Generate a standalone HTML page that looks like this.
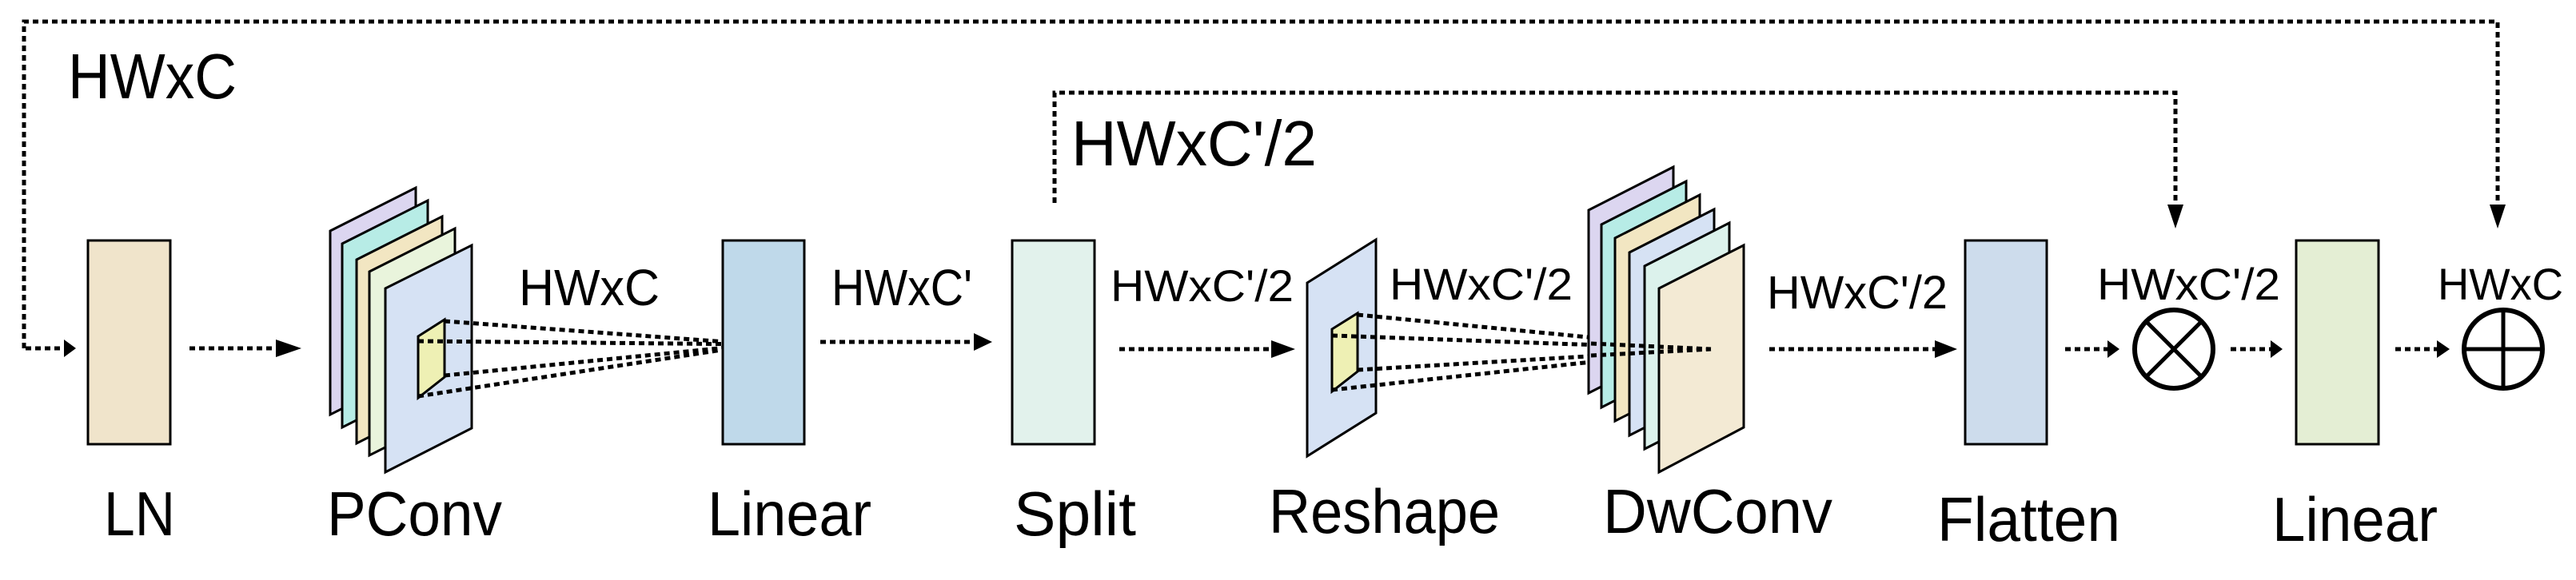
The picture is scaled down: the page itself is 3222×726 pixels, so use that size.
<!DOCTYPE html>
<html><head><meta charset="utf-8"><style>
html,body{margin:0;padding:0;background:#fff;}
svg{display:block;}
text{font-family:"Liberation Sans","DejaVu Sans",sans-serif;fill:#000;}
</style></head><body>
<svg width="3222" height="726" viewBox="0 0 3222 726" xmlns="http://www.w3.org/2000/svg">
<defs>
<style>.d{stroke:#000;stroke-width:5;stroke-dasharray:7 5;fill:none;}
.p{stroke:#000;stroke-width:3;}</style>
</defs>
<!-- top skip connections -->
<polyline class="d" points="30,436 30,27 3124,27 3124,262"/>
<polygon points="3114,256 3134,256 3124,286"/>
<polyline class="d" points="1319,254 1319,116 2721,116 2721,262"/>
<polygon points="2711,256 2731,256 2721,286"/>
<text x="85" y="123" font-size="80" textLength="211" lengthAdjust="spacingAndGlyphs">HWxC</text>
<text x="1340" y="207" font-size="80" textLength="307" lengthAdjust="spacingAndGlyphs">HWxC'/2</text>

<!-- LN -->
<line class="d" x1="32" y1="436" x2="80" y2="436"/>
<polygon points="80,425 95,436 80,447"/>
<rect x="110" y="301" width="103" height="255" fill="#f0e4cb" class="p"/>
<line class="d" x1="237" y1="436" x2="345" y2="436"/>
<polygon points="345,425 377,436 345,447"/>

<!-- PConv stack -->
<polygon points="413,289 520,235 520,465 413,519" fill="#dcd6f0" class="p"/>
<polygon points="428,305 535,251 535,481 428,535" fill="#b7ece6" class="p"/>
<polygon points="446,325 553,271 553,501 446,555" fill="#f2e6c2" class="p"/>
<polygon points="462,340 569,286 569,516 462,570" fill="#e9f4dc" class="p"/>
<polygon points="482,361 590,307 590,536 482,591" fill="#d6e2f4" class="p"/>
<polygon points="523,421 556,400 556,472 523,498" fill="#eef0b4" class="p"/>
<line class="d" x1="556" y1="402" x2="949" y2="431"/>
<line class="d" x1="523" y1="427" x2="949" y2="431"/>
<line class="d" x1="556" y1="470" x2="949" y2="431"/>
<line class="d" x1="523" y1="496" x2="949" y2="431"/>
<text x="649" y="382" font-size="64" textLength="176" lengthAdjust="spacingAndGlyphs">HWxC</text>

<!-- Linear -->
<rect x="904" y="301" width="102" height="255" fill="#bfd9ea" class="p"/>
<text x="1040" y="382" font-size="64" textLength="176" lengthAdjust="spacingAndGlyphs">HWxC'</text>
<line class="d" x1="1026" y1="428" x2="1220" y2="428"/>
<polygon points="1218,417 1241,428 1218,439"/>

<!-- Split -->
<rect x="1266" y="301" width="103" height="255" fill="#e2f2ec" class="p"/>
<text x="1389" y="377" font-size="56" textLength="229" lengthAdjust="spacingAndGlyphs">HWxC'/2</text>
<line class="d" x1="1400" y1="437" x2="1590" y2="437"/>
<polygon points="1590,426 1620,437 1590,448"/>

<!-- Reshape -->
<polygon points="1635,354 1721,300 1721,517 1635,571" fill="#d6e2f4" class="p"/>
<polygon points="1666,412 1698,392 1698,465 1666,490" fill="#eef0b4" class="p"/>
<line class="d" x1="1698" y1="394" x2="2140" y2="437"/>
<line class="d" x1="1666" y1="420" x2="2140" y2="437"/>
<line class="d" x1="1698" y1="463" x2="2140" y2="437"/>
<line class="d" x1="1666" y1="488" x2="2140" y2="437"/>
<text x="1738" y="375" font-size="56" textLength="229" lengthAdjust="spacingAndGlyphs">HWxC'/2</text>

<!-- DwConv stack -->
<polygon points="1987,263 2093,209 2093,438 1987,492" fill="#dcd6f0" class="p"/>
<polygon points="2003,281 2109,227 2109,456 2003,510" fill="#b7ece6" class="p"/>
<polygon points="2020,298 2126,244 2126,473 2020,527" fill="#f2e6c2" class="p"/>
<polygon points="2038,316 2144,262 2144,491 2038,545" fill="#d6e2f4" class="p"/>
<polygon points="2057,333 2163,279 2163,508 2057,562" fill="#dcf2ec" class="p"/>
<polygon points="2075,361 2181,307 2181,535 2075,591" fill="#f3ead4" class="p"/>
<line class="d" x1="1990" y1="430" x2="2140" y2="437"/>
<line class="d" x1="1990" y1="445" x2="2140" y2="437"/>

<!-- to Flatten -->
<text x="2210" y="386" font-size="58" textLength="226" lengthAdjust="spacingAndGlyphs">HWxC'/2</text>
<line class="d" x1="2213" y1="437" x2="2422" y2="437"/>
<polygon points="2420,426 2448,437 2420,448"/>
<rect x="2458" y="301" width="102" height="255" fill="#cddcec" class="p"/>
<line class="d" x1="2583" y1="437" x2="2637" y2="437"/>
<polygon points="2636,426 2651,437 2636,448"/>

<!-- otimes -->
<circle cx="2719" cy="437" r="49" fill="none" stroke="#000" stroke-width="6"/>
<line x1="2685" y1="403" x2="2753" y2="471" stroke="#000" stroke-width="5"/>
<line x1="2753" y1="403" x2="2685" y2="471" stroke="#000" stroke-width="5"/>
<text x="2623" y="375" font-size="56" textLength="229" lengthAdjust="spacingAndGlyphs">HWxC'/2</text>
<line class="d" x1="2790" y1="437" x2="2841" y2="437"/>
<polygon points="2840,426 2855,437 2840,448"/>

<!-- Linear2 -->
<rect x="2872" y="301" width="103" height="255" fill="#e4eed4" class="p"/>
<line class="d" x1="2996" y1="437" x2="3049" y2="437"/>
<polygon points="3048,426 3064,437 3048,448"/>

<!-- oplus -->
<circle cx="3131" cy="437" r="49" fill="none" stroke="#000" stroke-width="6"/>
<line x1="3082" y1="437" x2="3180" y2="437" stroke="#000" stroke-width="5"/>
<line x1="3131" y1="388" x2="3131" y2="486" stroke="#000" stroke-width="5"/>
<text x="3049" y="375" font-size="56" textLength="157" lengthAdjust="spacingAndGlyphs">HWxC</text>

<!-- bottom labels -->
<text x="130" y="670" font-size="78" textLength="89" lengthAdjust="spacingAndGlyphs">LN</text>
<text x="409" y="670" font-size="78" textLength="219" lengthAdjust="spacingAndGlyphs">PConv</text>
<text x="885" y="670" font-size="78" textLength="205" lengthAdjust="spacingAndGlyphs">Linear</text>
<text x="1268" y="670" font-size="78" textLength="153" lengthAdjust="spacingAndGlyphs">Split</text>
<text x="1587" y="667" font-size="78" textLength="289" lengthAdjust="spacingAndGlyphs">Reshape</text>
<text x="2005" y="667" font-size="78" textLength="287" lengthAdjust="spacingAndGlyphs">DwConv</text>
<text x="2423" y="677" font-size="78" textLength="229" lengthAdjust="spacingAndGlyphs">Flatten</text>
<text x="2842" y="677" font-size="78" textLength="207" lengthAdjust="spacingAndGlyphs">Linear</text>
</svg>
</body></html>
